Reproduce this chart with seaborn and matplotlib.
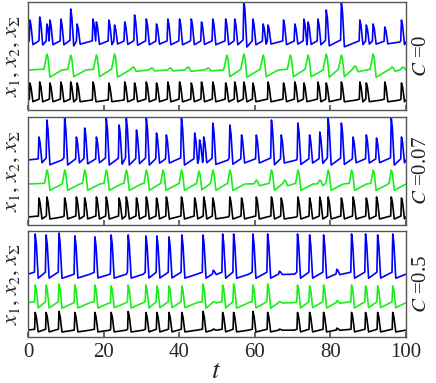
import numpy as np
import matplotlib
matplotlib.use("Agg")
import matplotlib.pyplot as plt
import seaborn as sns

# spike times (t) and peak heights, one list per trace
# panel C = 0
top_black_t = [0.5, 3.1, 5.8, 8.7, 11.3, 13.0, 17.2, 21.4, 25.6, 28.2, 31.3, 34.0, 37.0,
               40.1, 43.2, 45.9, 48.9, 52.3, 54.7, 57.1, 59.5, 63.5, 67.6, 70.6, 73.0,
               76.7, 78.9, 82.9, 87.8, 89.5, 94.4, 98.8]
top_black_h = [17, 18, 17, 18, 18, 17, 18, 17, 18, 17, 18, 17, 18,
               18, 17, 18, 18, 17, 18, 18, 17, 18, 17, 18, 17,
               18, 17, 18, 18, 17, 18, 17]
top_green_t = [5.0, 11.3, 18.1, 22.9, 27.8, 32.7, 37.6, 42.3, 47.6, 52.6, 57.1, 62.2,
               69.4, 74.1, 78.9, 82.9, 86.5, 91.3, 96.3, 99.2]
top_green_h = [16, 15, 15, 16, 3, 2, 2, 3, 2, 15, 16, 15,
               15, 15, 16, 15, 4, 16, 3, 3]
top_blue_t = [0.5, 3.1, 5.0, 5.8, 8.7, 11.3, 13.0, 17.2, 18.1, 21.4, 22.9, 25.6, 28.2,
              31.3, 34.0, 37.0, 40.1, 43.2, 45.9, 48.9, 52.3, 54.7, 57.1, 59.5, 62.2,
              63.5, 67.6, 70.6, 73.0, 74.1, 76.7, 78.9, 82.9, 87.8, 89.5, 91.3, 94.4, 98.8]
top_blue_h = [22, 25, 18, 22, 23, 33, 18, 23, 20, 22, 17, 20, 27,
              23, 18, 23, 23, 23, 20, 23, 23, 23, 42, 23, 18,
              17, 22, 18, 23, 20, 23, 32, 40, 22, 17, 18, 15, 22]

# panel C = 0.07
mid_black_t = [2.9, 5.0, 9.7, 12.8, 15.0, 18.1, 20.7, 24.1, 26.0, 28.7, 31.3, 34.0, 36.6,
               40.6, 44.1, 46.5, 48.9, 53.4, 56.5, 60.4, 64.4, 67.0, 71.4, 74.5, 77.2,
               79.4, 82.9, 86.0, 89.5, 92.2, 96.1, 98.8]
mid_black_h = [19, 20, 19, 20, 19, 20, 20, 19, 20, 19, 20, 19, 20,
               20, 19, 20, 19, 20, 19, 20, 20, 19, 20, 19, 20,
               20, 19, 20, 19, 20, 20, 19]
mid_green_t = [5.0, 9.7, 15.0, 20.7, 26.0, 31.3, 35.7, 40.6, 45.2, 48.9, 53.4, 60.4,
               64.4, 67.9, 71.4, 77.2, 79.4, 85.6, 91.3, 96.1]
mid_green_h = [14, 14, 14, 14, 14, 14, 14, 14, 13, 14, 14, 4,
               14, 4, 14, 4, 14, 14, 14, 14]
mid_blue_t = [2.9, 5.0, 9.7, 12.8, 15.0, 18.1, 20.7, 24.1, 26.0, 28.7, 31.3, 34.0, 36.6,
              40.6, 44.1, 45.4, 46.5, 48.9, 53.4, 56.5, 60.4, 64.4, 67.0, 71.4, 74.5,
              77.2, 79.4, 82.9, 86.0, 89.5, 92.2, 96.1, 98.8]
mid_blue_h = [23, 40, 42, 23, 32, 23, 42, 35, 42, 30, 42, 27, 25,
              42, 27, 20, 23, 37, 35, 25, 25, 40, 25, 37, 25,
              28, 42, 37, 23, 25, 22, 42, 23]

# panel C = 0.5
bot_t = [1.9, 4.8, 8.2, 12.4, 17.7, 22.0, 26.5, 31.2, 34.1, 37.3, 40.7, 46.3, 49.0,
         51.5, 54.4, 59.5, 63.4, 66.5, 71.3, 74.5, 78.2, 81.7, 85.6, 89.3, 92.5, 96.5]
bot_black_h = [18, 18, 19, 18, 18, 18, 19, 18, 18, 18, 18, 19, 1,
               18, 18, 19, 18, 1, 18, 18, 18, 2, 18, 18, 18, 18]
bot_green_h = [18, 18, 19, 18, 18, 17, 18, 18, 17, 17, 17, 19, 1,
               18, 19, 18, 19, 1, 18, 17, 18, 2, 18, 17, 17, 17]
bot_blue_h = [41, 40, 42, 39, 38, 40, 40, 39, 39, 38, 40, 40, 4,
              41, 41, 41, 41, 3, 41, 40, 40, 5, 41, 41, 40, 41]

panel_labels = ["0", "0.07", "0.5"]
xticks = [0, 20, 40, 60, 80, 100]


def spike_trace(times, heights, base, dip, pre, rise):
    # piecewise-linear trace through the read spike peaks
    xs, ys = [0.0], [base]
    for i, (ts, h) in enumerate(zip(times, heights)):
        nxt = times[i + 1] if i + 1 < len(times) else 101.0
        pts = [(ts - rise, base + pre * h), (ts, base + h),
               (ts + 0.3, base + 0.75 * h), (ts + 0.8, base - dip * h),
               (ts + 4.0, base)]
        for px, py in pts:
            if xs[-1] < px < nxt - rise and px < 100:
                xs.append(px)
                ys.append(py)
    xs.append(100.0)
    ys.append(base)
    return np.array(xs), np.array(ys)


sns.set_theme(style="white")
plt.rcParams["font.family"] = ["Liberation Serif", "DejaVu Serif"]
plt.rcParams["mathtext.fontset"] = "stix"

fig = plt.figure(figsize=(4.36, 3.83), dpi=100)

green = "#1aee1a"
blue = "#0000ff"
panels = [
    [(top_black_t, top_black_h, 10, 0.1, 0.05, 0.15, "black"),
     (top_green_t, top_green_h, 40, 0.45, 0.05, 0.8, green),
     (top_blue_t, top_blue_h, 68, 0.12, 0.05, 0.2, blue)],
    [(mid_black_t, mid_black_h, 8, 0.1, 0.05, 0.15, "black"),
     (mid_green_t, mid_green_h, 41, 0.45, 0.05, 0.6, green),
     (mid_blue_t, mid_blue_h, 65, 0.12, 0.05, 0.2, blue)],
    [(bot_t, bot_black_h, 7, 0.1, 0.05, 0.15, "black"),
     (bot_t, bot_green_h, 35, 0.3, 0.05, 0.2, green),
     (bot_t, bot_blue_h, 64, 0.1, 0.05, 0.2, blue)],
]
boxes = [(2, 110), (117, 225), (231, 337)]
left, right = 28 / 436, 406 / 436

for k, (traces, (ptop, pbot)) in enumerate(zip(panels, boxes)):
    ax = fig.add_axes([left, 1 - pbot / 383, right - left, (pbot - ptop) / 383])
    for times, heights, base, dip, pre, rise, col in traces:
        xs, ys = spike_trace(times, heights, base, dip, pre, rise)
        sns.lineplot(x=xs, y=ys, ax=ax, color=col, lw=1.2,
                     estimator=None, sort=False, legend=False)
    ax.set_xlim(0, 100)
    ax.set_ylim(0, 108)
    ax.set_yticks([])
    ax.set_xticks(xticks)
    ax.tick_params(axis="x", direction="in", length=3.5, color="#555555",
                   labelsize=15, pad=4, bottom=True)
    if k < 2:
        ax.set_xticklabels([])
    for s in ax.spines.values():
        s.set_color("#555555")
        s.set_linewidth(1.0)
    ymid = 1 - (ptop + pbot) / 2 / 383
    fig.text(12 / 436, ymid, r"$x_1,\, x_2,\, x_\Sigma$", rotation=90,
             ha="center", va="center", fontsize=16)
    fig.text(421 / 436, ymid, r"$C$ =" + panel_labels[k], rotation=90,
             ha="center", va="center", fontsize=15)

fig.text(216 / 436, 1 - 371 / 383, r"$t$", ha="center", va="center", fontsize=20)

fig.savefig("out.png", dpi=100)
